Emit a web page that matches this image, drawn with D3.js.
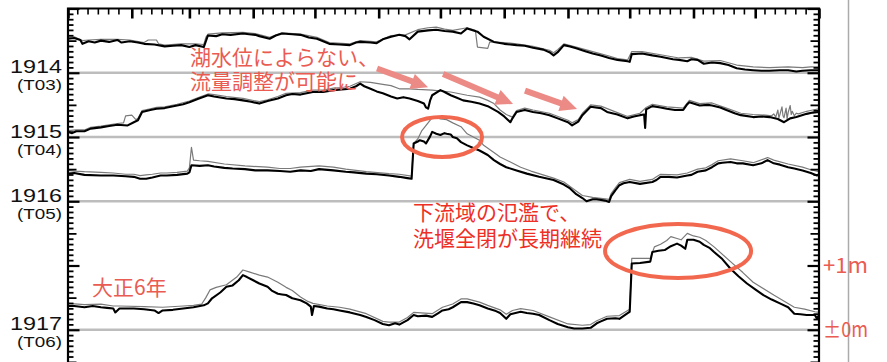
<!DOCTYPE html>
<html><head><meta charset="utf-8">
<script src="https://cdn.jsdelivr.net/npm/d3@7"></script>
<style>
html,body{margin:0;padding:0;background:#fff;}
svg{display:block;}
</style></head>
<body>
<svg id="chart" width="887" height="362"></svg>
<script>
// Year rows, stacked with a vertical offset (in metres) per year
const years = ["1914", "1915", "1916", "1917"];
const eraLabels = ["(T03)", "(T04)", "(T05)", "(T06)"];
const yearOffsets = [0, -1, -2, -4];

// Calendar ticks (day offsets from 1 Jan)
const monthStarts = [0, 31, 59, 90, 120, 151, 181, 212, 243, 273, 304, 334, 365];
const minorDays = [5, 10, 15, 20, 25];

// Right-hand scale labels, relative to the 1917 row
const scaleLabels = ["+1m", "±0m"];
const scaleLevels = [1, 0];

// Water level series: [day of year, metres above the row's baseline]
const stageMain1914 = [[0,.53],[3,.54],[6,.51],[7,.45],[10,.49],[13,.47],[16,.50],[20,.48],[24,.51],[26,.47],[30,.49],[34,.47],[37,.45],[42,.44],[47,.41],[51,.42],[55,.43],[59,.40],[62,.43],[66,.40],[68,.58],[72,.57],[75,.60],[79,.59],[85,.61],[88,.60],[91,.59],[93,.57],[98,.53],[101,.58],[104,.61],[109,.60],[113,.59],[117,.55],[121,.53],[127,.45],[132,.44],[137,.43],[140,.47],[142,.48],[147,.47],[150,.46],[153,.52],[157,.56],[161,.59],[164,.57],[166,.52],[170,.64],[175,.66],[179,.67],[183,.65],[187,.64],[191,.61],[194,.69],[199,.64],[202,.56],[207,.48],[212,.45],[218,.43],[222,.42],[226,.39],[231,.36],[234,.32],[236,.27],[238,.32],[241,.43],[244,.41],[247,.38],[251,.34],[255,.30],[259,.27],[263,.23],[267,.20],[272,.18],[273,.17],[274,.29],[279,.30],[284,.27],[288,.25],[294,.21],[297,.20],[301,.18],[303,.21],[306,.20],[309,.14],[313,.16],[317,.15],[321,.12],[325,.07],[329,.05],[333,.04],[337,.03],[341,.03],[346,.04],[350,.04],[354,.02],[357,.03],[361,.04],[365,.04]];
const stageSub1914 = [[0,.55],[3,.56],[7,.50],[10,.51],[16,.52],[24,.52],[30,.51],[37,.47],[39,.51],[43,.51],[44,.45],[47,.43],[55,.45],[62,.45],[66,.44],[67,.55],[68,.60],[75,.62],[85,.63],[91,.61],[98,.55],[104,.62],[113,.60],[121,.55],[127,.47],[137,.45],[142,.50],[150,.48],[157,.58],[164,.59],[170,.67],[175,.70],[179,.71],[183,.68],[187,.66],[194,.70],[198,.66],[199,.40],[204,.38],[205,.48],[212,.47],[218,.45],[226,.41],[234,.35],[236,.31],[238,.36],[241,.45],[247,.40],[255,.33],[263,.26],[267,.22],[272,.20],[274,.33],[279,.33],[288,.28],[297,.23],[303,.24],[309,.18],[317,.19],[325,.12],[333,.09],[341,.08],[350,.09],[357,.08],[361,.09],[365,.09]];

const stageMain1915 = [[0,.08],[2,.06],[4,.09],[8,.09],[11,.13],[16,.15],[20,.17],[24,.19],[29,.18],[32,.23],[34,.26],[36,.39],[40,.42],[43,.44],[47,.45],[53,.49],[56,.51],[59,.54],[63,.59],[68,.65],[71,.63],[77,.60],[81,.59],[85,.57],[89,.55],[93,.52],[97,.56],[102,.60],[106,.65],[109,.67],[113,.66],[119,.70],[124,.70],[129,.73],[133,.74],[137,.75],[140,.79],[142,.83],[144,.79],[147,.75],[150,.71],[153,.68],[157,.63],[160,.60],[163,.62],[166,.60],[170,.56],[173,.52],[174,.46],[175,.44],[176,.57],[177,.65],[181,.73],[183,.70],[186,.65],[189,.61],[192,.57],[196,.55],[200,.52],[204,.48],[209,.39],[212,.32],[215,.23],[216,.29],[218,.39],[222,.42],[226,.39],[230,.37],[234,.34],[238,.29],[243,.23],[245,.18],[248,.24],[250,.34],[254,.47],[259,.45],[262,.39],[267,.35],[272,.29],[275,.32],[278,.34],[280,.35],[280.5,.14],[281,.43],[284,.48],[288,.46],[291,.44],[295,.42],[299,.42],[301,.51],[302,.54],[307,.49],[311,.50],[313,.49],[317,.46],[320,.42],[324,.37],[327,.34],[333,.31],[337,.32],[341,.31],[345,.28],[348,.23],[351,.29],[354,.31],[359,.36],[362,.38],[365,.39]];
const stageSub1915 = [[0,.10],[4,.11],[8,.11],[11,.15],[16,.17],[20,.19],[24,.21],[27,.22],[28,.33],[31,.34],[33,.27],[34,.29],[36,.41],[40,.44],[43,.46],[47,.47],[53,.51],[59,.56],[63,.61],[68,.67],[71,.66],[77,.63],[85,.60],[93,.55],[97,.58],[102,.63],[106,.68],[113,.69],[119,.73],[124,.73],[129,.76],[133,.77],[137,.79],[142,.86],[147,.85],[153,.82],[157,.80],[161,.75],[166,.75],[170,.74],[177,.73],[186,.70],[194,.65],[200,.62],[204,.57],[207,.52],[210,.42],[213,.35],[216,.31],[218,.41],[222,.45],[226,.42],[234,.37],[243,.26],[245,.22],[248,.27],[250,.37],[254,.50],[259,.48],[267,.38],[272,.32],[278,.37],[281,.46],[284,.51],[291,.47],[299,.45],[302,.57],[307,.52],[313,.53],[320,.45],[327,.37],[333,.35],[339,.34],[342,.33],[343,.36],[344,.31],[345,.42],[345.5,.30],[346,.35],[347,.47],[347.5,.33],[348,.30],[349,.45],[349.5,.28],[350,.38],[351,.49],[351.5,.35],[352,.40],[353,.33],[354,.37],[355,.36],[359,.40],[362,.42],[365,.44]];

const stageMain1916 = [[0,.43],[3,.44],[8,.41],[16,.40],[22,.40],[28,.39],[32,.38],[35,.35],[38,.35],[41,.37],[45,.40],[48,.40],[53,.41],[58,.43],[59,.45],[60,.56],[64,.55],[68,.56],[71,.54],[76,.52],[80,.51],[86,.50],[91,.48],[97,.48],[103,.47],[108,.46],[113,.48],[118,.47],[122,.50],[129,.48],[135,.46],[139,.45],[145,.43],[150,.42],[156,.40],[161,.38],[165,.36],[167,.35],[168,.90],[170,.93],[171,.95],[173,.93],[174,.90],[176,1.01],[177,1.08],[179,1.05],[181,1.03],[183,1.06],[184,1.05],[186,1.04],[187,1.00],[189,.98],[191,.92],[194,.87],[197,.83],[200,.79],[204,.72],[207,.64],[210,.58],[213,.53],[218,.48],[223,.43],[229,.38],[236,.33],[241,.26],[244,.20],[247,.11],[250,.05],[252,.00],[255,.03],[257,.03],[261,.01],[263,-.01],[264,.08],[266,.17],[268,.25],[270,.28],[273,.30],[278,.27],[284,.30],[286,.33],[288,.38],[292,.38],[296,.37],[301,.40],[303,.41],[306,.46],[310,.48],[313,.53],[316,.59],[318,.60],[322,.61],[325,.59],[328,.59],[333,.56],[337,.59],[340,.64],[343,.59],[346,.57],[350,.53],[353,.51],[357,.48],[361,.44],[364,.40],[365,.42]];
const stageSub1916 = [[0,.48],[3,.47],[8,.46],[16,.45],[22,.44],[28,.42],[32,.42],[35,.40],[38,.41],[41,.42],[45,.44],[48,.44],[53,.45],[58,.47],[59,.52],[60,.84],[61,.64],[64,.63],[68,.62],[76,.58],[86,.55],[97,.53],[103,.51],[108,.51],[113,.53],[122,.55],[129,.53],[135,.50],[145,.46],[156,.43],[161,.42],[167,.39],[168,.90],[170,.97],[172,1.10],[175,1.22],[177,1.30],[179,1.31],[181,1.28],[184,1.27],[187,1.22],[191,1.16],[194,1.05],[200,.95],[202,.87],[207,.76],[210,.69],[215,.61],[220,.53],[225,.47],[236,.36],[241,.30],[247,.16],[250,.09],[255,.06],[263,.03],[264,.12],[266,.21],[268,.29],[273,.34],[278,.31],[284,.34],[286,.38],[288,.42],[296,.41],[301,.44],[306,.50],[310,.52],[313,.57],[316,.63],[322,.66],[328,.63],[333,.60],[340,.68],[343,.64],[350,.58],[357,.53],[361,.49],[365,.46]];

const stageMain1917 = [[0,.37],[3,.37],[8,.35],[12,.37],[16,.35],[19,.34],[22,.33],[23,.27],[25,.33],[32,.33],[37,.32],[42,.30],[44,.26],[46,.30],[51,.31],[56,.33],[61,.35],[66,.38],[68,.41],[70,.49],[74,.58],[77,.67],[80,.69],[83,.77],[85,.85],[87,.82],[90,.77],[93,.72],[97,.67],[99,.61],[102,.56],[104,.55],[106,.54],[109,.49],[113,.46],[116,.41],[118,.36],[118.6,.23],[119.5,.37],[122,.36],[126,.33],[129,.32],[132,.30],[137,.27],[142,.23],[145,.20],[149,.15],[153,.09],[156,.07],[159,.10],[161,.08],[165,.15],[168,.23],[170,.21],[174,.22],[177,.20],[180,.26],[182,.30],[185,.32],[187,.35],[191,.43],[194,.43],[197,.41],[200,.38],[204,.33],[208,.29],[210,.26],[213,.17],[215,.24],[216,.25],[220,.28],[223,.26],[226,.25],[229,.23],[234,.15],[238,.09],[243,.04],[246,.02],[250,.02],[254,.03],[257,.10],[259,.13],[262,.17],[266,.18],[268,.17],[272,.26],[273,.28],[274,1.03],[278,1.04],[283,1.06],[284,1.21],[287,1.23],[290,1.24],[293,1.30],[296,1.34],[298,1.31],[300,1.26],[301,1.40],[304,1.40],[307,1.37],[309,1.32],[312,1.27],[314,1.21],[318,1.10],[322,.95],[326,.83],[330,.72],[334,.63],[338,.54],[342,.47],[346,.41],[350,.35],[353,.25],[356,.24],[359,.23],[363,.23],[364,.17],[365,.23]];
const stageSub1917 = [[0,.41],[8,.39],[16,.40],[22,.37],[25,.37],[37,.36],[46,.35],[56,.37],[61,.38],[65,.40],[67,.50],[69,.62],[72,.66],[77,.70],[82,.82],[85,.93],[88,.90],[93,.85],[97,.82],[102,.74],[106,.66],[109,.61],[113,.51],[116,.45],[119,.41],[126,.37],[132,.35],[137,.32],[145,.25],[153,.13],[156,.12],[161,.12],[165,.19],[168,.27],[177,.25],[182,.35],[187,.40],[191,.48],[194,.48],[200,.43],[204,.38],[210,.31],[213,.24],[216,.30],[220,.33],[226,.30],[234,.20],[243,.09],[250,.07],[254,.08],[257,.14],[262,.21],[268,.22],[273,.32],[274,1.11],[283,1.11],[285,1.29],[288,1.33],[291,1.39],[293,1.45],[296,1.42],[298,1.40],[301,1.50],[304,1.46],[307,1.44],[310,1.39],[314,1.29],[322,1.06],[328,.89],[333,.74],[343,.54],[353,.35],[358,.32],[363,.28],[365,.27]];

const stageMain = [stageMain1914, stageMain1915, stageMain1916, stageMain1917];
const stageSub = [stageSub1914, stageSub1915, stageSub1916, stageSub1917];

// ---------------------------------------------------------------
const svg = d3.select("#chart");
const pLeft = 68, pRight = 819, pTop = 8.5, pxPerMetre = 64.25;
const yMin = -4.6;

const x = d3.scaleLinear().domain([0, 365]).range([pLeft, pRight]);
const y = d3.scaleLinear().domain([1, yMin]).range([pTop, pTop + (1 - yMin) * pxPerMetre]);
const pBottom = y(yMin);

const jpFont = "'Noto Sans CJK JP', 'Noto Sans', sans-serif";
const latinFont = "'Liberation Sans', Arial, Helvetica, sans-serif";
const noteRed = "#ea5b52";

// Separator on the far right
svg.append("line")
  .attr("x1", 848.5).attr("x2", 848.5).attr("y1", 0).attr("y2", 362)
  .attr("stroke", "#ababab").attr("stroke-width", 1.5);

// Clip for the series
svg.append("defs").append("clipPath").attr("id", "plotClip")
  .append("rect").attr("x", pLeft).attr("y", pTop).attr("width", pRight - pLeft).attr("height", pBottom - pTop);

// Baselines for each year
svg.append("g").selectAll("line").data(yearOffsets).join("line")
  .attr("x1", pLeft).attr("x2", pRight)
  .attr("y1", d => y(d)).attr("y2", d => y(d))
  .attr("stroke", "#bdbdbd").attr("stroke-width", 2.6);

// Series
const series = svg.append("g").attr("clip-path", "url(#plotClip)");
yearOffsets.forEach((off, i) => {
  const line = d3.line().x(d => x(d[0])).y(d => y(off + d[1]));
  series.append("path").datum(stageSub[i]).attr("d", line)
    .attr("fill", "none").attr("stroke", "#7a7a7a").attr("stroke-width", 1.2)
    .attr("stroke-linejoin", "round");
  series.append("path").datum(stageMain[i]).attr("d", line)
    .attr("fill", "none").attr("stroke", "#000").attr("stroke-width", 2.1)
    .attr("stroke-linejoin", "round");
});

// ---- Axes ----
const minorX = [];
monthStarts.slice(0, 12).forEach(m => minorDays.forEach(d => minorX.push(m + d - 0.5)));

function styleAxis(g, w) {
  g.select(".domain").remove();
  g.selectAll(".tick line").attr("stroke", "#000").attr("stroke-width", w);
  g.selectAll(".tick text").remove();
}
svg.append("g").attr("transform", `translate(0,${pTop})`)
  .call(d3.axisTop(x).tickValues(minorX).tickSize(-6).tickFormat(""))
  .call(g => styleAxis(g, 1.6));
svg.append("g").attr("transform", `translate(0,${pTop})`)
  .call(d3.axisTop(x).tickValues(monthStarts).tickSize(-10).tickFormat(""))
  .call(g => styleAxis(g, 2.6));

const levelTicks = d3.range(Math.ceil(yMin * 12), 13).map(k => k / 12);
const isWhole = v => Math.abs(v - Math.round(v)) < 1e-6;
const isHalf = v => !isWhole(v) && Math.abs(v * 2 - Math.round(v * 2)) < 1e-6;
const minorY = levelTicks.filter(v => !isWhole(v) && !isHalf(v));
const halfY = levelTicks.filter(isHalf);
const wholeY = levelTicks.filter(isWhole);

[[d3.axisLeft, pLeft], [d3.axisRight, pRight]].forEach(([axisFn, pos]) => {
  svg.append("g").attr("transform", `translate(${pos},0)`)
    .call(axisFn(y).tickValues(minorY).tickSize(-5.5).tickFormat("")).call(g => styleAxis(g, 1.8));
  svg.append("g").attr("transform", `translate(${pos},0)`)
    .call(axisFn(y).tickValues(halfY).tickSize(-8.5).tickFormat("")).call(g => styleAxis(g, 1.8));
  svg.append("g").attr("transform", `translate(${pos},0)`)
    .call(axisFn(y).tickValues(wholeY).tickSize(-11.5).tickFormat("")).call(g => styleAxis(g, 2.2));
});

// Frame (top, left, right)
svg.append("path")
  .attr("d", `M${pLeft},${pBottom}V${pTop}H${pRight}V${pBottom}`)
  .attr("fill", "none").attr("stroke", "#000").attr("stroke-width", 2.2);

// Year labels
const labels = svg.append("g");
years.forEach((yr, i) => {
  const gy = y(yearOffsets[i]);
  labels.append("text").attr("x", 10).attr("y", gy + 0.5)
    .attr("textLength", 52).attr("lengthAdjust", "spacingAndGlyphs")
    .attr("font-family", latinFont).attr("font-size", 19).attr("fill", "#111").text(yr);
  labels.append("text").attr("x", 17).attr("y", gy + 17.5)
    .attr("textLength", 45).attr("lengthAdjust", "spacingAndGlyphs")
    .attr("font-family", latinFont).attr("font-size", 15.5).attr("fill", "#111").text(eraLabels[i]);
});

// Right-hand metre labels
scaleLabels.forEach((t, i) => {
  svg.append("text").attr("x", 823).attr("y", y(yearOffsets[3] + scaleLevels[i]) + 7.5)
    .attr("textLength", 45).attr("lengthAdjust", "spacingAndGlyphs")
    .attr("font-family", jpFont).attr("font-size", 21).attr("fill", noteRed).text(t);
});

// ---- Annotations ----
function arrow(d0, l0, d1, l1) {
  const x0 = x(d0), y0 = y(l0), x1 = x(d1), y1 = y(l1);
  const len = Math.hypot(x1 - x0, y1 - y0), ux = (x1 - x0) / len, uy = (y1 - y0) / len;
  const nx = -uy, ny = ux, sw = 3, hw = 8, hl = 17;
  const bx = x1 - ux * hl, by = y1 - uy * hl;
  const pts = [
    [x0 + nx * sw, y0 + ny * sw], [bx + nx * sw, by + ny * sw], [bx + nx * hw, by + ny * hw],
    [x1, y1], [bx - nx * hw, by - ny * hw], [bx - nx * sw, by - ny * sw], [x0 - nx * sw, y0 - ny * sw]
  ];
  svg.append("polygon").attr("points", pts.map(p => p.join(",")).join(" ")).attr("fill", "#ec8b86");
}
arrow(150.2, 0.066, 175.0, -0.226);
arrow(182.3, -0.019, 216.3, -0.486);
arrow(222.1, -0.279, 247.4, -0.564);

function ring(d, l, rx, ry) {
  svg.append("ellipse").attr("cx", x(d)).attr("cy", y(l)).attr("rx", rx).attr("ry", ry)
    .attr("fill", "none").attr("stroke", "#f2684f").attr("stroke-width", 4);
}
ring(181.8, -1.0, 40, 20);
ring(296.5, -2.774, 73, 27);

function note(lines, d, l, lh, color) {
  const t = svg.append("text").attr("font-family", jpFont).attr("font-size", 21).attr("fill", color);
  lines.forEach((s, i) => t.append("tspan").attr("x", x(d)).attr("y", y(l) + i * lh).text(s));
}
note(["湖水位によらない、", "流量調整が可能に"], 59.3, 0.1206, 23.5, noteRed);
note(["下流域の氾濫で、", "洗堰全閉が長期継続"], 167.7, -2.292, 26, "#ee2f26");
note(["大正6年"], 11.7, -3.459, 0, noteRed);
</script>
</body></html>
